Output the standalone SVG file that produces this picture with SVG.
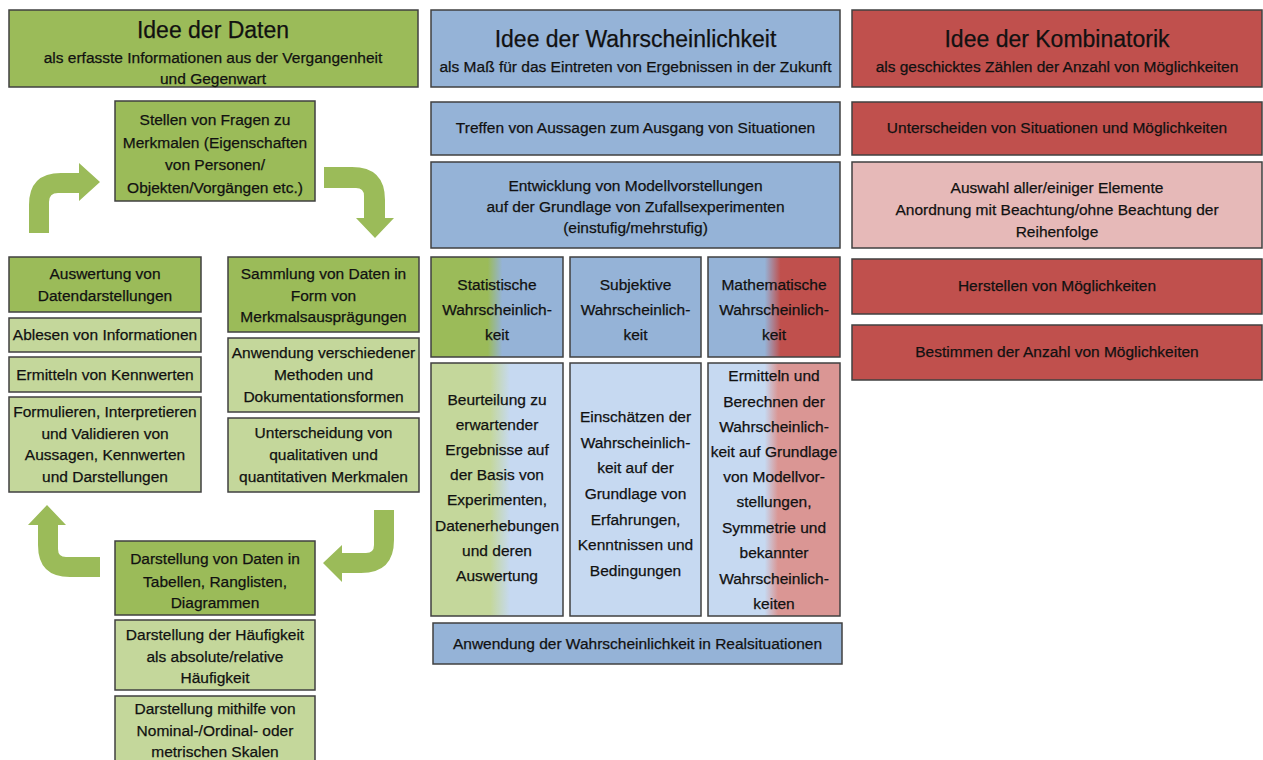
<svg xmlns="http://www.w3.org/2000/svg" width="1263" height="760" viewBox="0 0 1263 760">
<style>
.bx{stroke:#404040;stroke-width:1.5}
.dg{fill:#9bbb59}.lg{fill:#c4d79b}.bl{fill:#95b3d7}.lb{fill:#c6d9f1}.rd{fill:#c0504d}.lr{fill:#e6b9b8}
text{font-family:"Liberation Sans",Arial,sans-serif;fill:#111111;stroke:#111111;stroke-width:0.25px;text-anchor:middle;font-size:15.5px}
.t{font-size:23px}
.ar{fill:#9bbb59}
</style>
<defs>
<linearGradient id="gStat"><stop offset="0.43" stop-color="#9bbb59"/><stop offset="0.54" stop-color="#95b3d7"/></linearGradient>
<linearGradient id="gStatL"><stop offset="0.45" stop-color="#c4d79b"/><stop offset="0.6" stop-color="#c6d9f1"/></linearGradient>
<linearGradient id="gMath"><stop offset="0.43" stop-color="#95b3d7"/><stop offset="0.55" stop-color="#c0504d"/></linearGradient>
<linearGradient id="gMathL"><stop offset="0.43" stop-color="#c6d9f1"/><stop offset="0.53" stop-color="#da9694"/></linearGradient>
</defs>
<rect width="1263" height="760" fill="#ffffff"/>

<!-- Left column: Daten -->
<g id="daten-header"><rect class="bx dg" x="9" y="10" width="409" height="77"/>
<text class="t" x="213" y="38">Idee der Daten</text>
<text x="213" y="63">als erfasste Informationen aus der Vergangenheit</text>
<text x="213" y="84">und Gegenwart</text></g>

<g id="fragen"><rect class="bx dg" x="115" y="101" width="200" height="100"/>
<text x="215" y="125">Stellen von Fragen zu</text>
<text x="215" y="147.5">Merkmalen (Eigenschaften</text>
<text x="215" y="170">von Personen/</text>
<text x="215" y="192.5">Objekten/Vorgängen etc.)</text></g>

<g id="auswertung"><rect class="bx dg" x="9" y="257" width="192" height="55"/>
<text x="105" y="279">Auswertung von</text>
<text x="105" y="300.5">Datendarstellungen</text></g>
<g id="ablesen"><rect class="bx lg" x="9" y="318" width="192" height="34"/>
<text x="105" y="340">Ablesen von Informationen</text></g>
<g id="ermitteln"><rect class="bx lg" x="9" y="357" width="192" height="35"/>
<text x="105" y="380">Ermitteln von Kennwerten</text></g>
<g id="formulieren"><rect class="bx lg" x="9" y="397" width="192" height="95"/>
<text x="105" y="417">Formulieren, Interpretieren</text>
<text x="105" y="438.5">und Validieren von</text>
<text x="105" y="460">Aussagen, Kennwerten</text>
<text x="105" y="481.5">und Darstellungen</text></g>

<g id="sammlung"><rect class="bx dg" x="228" y="257" width="191" height="75"/>
<text x="323.5" y="279">Sammlung von Daten in</text>
<text x="323.5" y="300.5">Form von</text>
<text x="323.5" y="322">Merkmalsausprägungen</text></g>
<g id="anwendung-methoden"><rect class="bx lg" x="228" y="338" width="191" height="74"/>
<text x="323.5" y="358">Anwendung verschiedener</text>
<text x="323.5" y="380">Methoden und</text>
<text x="323.5" y="402">Dokumentationsformen</text></g>
<g id="unterscheidung"><rect class="bx lg" x="228" y="418" width="191" height="74"/>
<text x="323.5" y="438">Unterscheidung von</text>
<text x="323.5" y="460">qualitativen und</text>
<text x="323.5" y="482">quantitativen Merkmalen</text></g>

<g id="darstellung"><rect class="bx dg" x="115" y="541" width="200" height="74"/>
<text x="215" y="564">Darstellung von Daten in</text>
<text x="215" y="586.5">Tabellen, Ranglisten,</text>
<text x="215" y="608">Diagrammen</text></g>
<g id="haeufigkeit"><rect class="bx lg" x="115" y="620" width="200" height="70"/>
<text x="215" y="640">Darstellung der Häufigkeit</text>
<text x="215" y="662">als absolute/relative</text>
<text x="215" y="683">Häufigkeit</text></g>
<g id="skalen"><rect class="bx lg" x="115" y="696" width="200" height="80"/>
<text x="215" y="714">Darstellung mithilfe von</text>
<text x="215" y="736">Nominal-/Ordinal- oder</text>
<text x="215" y="757">metrischen Skalen</text></g>

<g id="connectors">
<path class="ar" d="M29,233 L29,205 Q29,173 61,173 L79,173 L79,163 L100,182 L79,201 L79,193 L58,193 Q49,193 49,202 L49,233 Z"/>
<path class="ar" d="M324,167 L352,167 Q385,167 385,200 L385,218 L394,218 L375,238 L356,218 L364,218 L364,196 Q364,188 356,188 L324,188 Z"/>
<path class="ar" d="M374,510 L394,510 L394,540 Q394,573 361,573 L342,573 L342,582 L323,563 L342,545 L342,553 L366,553 Q374,553 374,545 Z"/>
<path class="ar" d="M100,557 L66,557 Q58,557 58,549 L58,525 L66,525 L47,505 L28,525 L38,525 L38,545 Q38,577 70,577 L100,577 Z"/>
</g>

<!-- Middle column: Wahrscheinlichkeit -->
<g id="ws-header"><rect class="bx bl" x="431" y="10" width="409" height="77"/>
<text class="t" x="635.5" y="47">Idee der Wahrscheinlichkeit</text>
<text x="635.5" y="72">als Maß für das Eintreten von Ergebnissen in der Zukunft</text></g>
<g id="treffen"><rect class="bx bl" x="431" y="102" width="409" height="53"/>
<text x="635.5" y="133">Treffen von Aussagen zum Ausgang von Situationen</text></g>
<g id="entwicklung"><rect class="bx bl" x="431" y="162" width="409" height="86"/>
<text x="635.5" y="190.5">Entwicklung von Modellvorstellungen</text>
<text x="635.5" y="211.5">auf der Grundlage von Zufallsexperimenten</text>
<text x="635.5" y="233">(einstufig/mehrstufig)</text></g>

<g id="statistisch"><rect class="bx" fill="url(#gStat)" x="431" y="257" width="132" height="100"/>
<text x="497" y="290">Statistische</text>
<text x="497" y="315">Wahrscheinlich-</text>
<text x="497" y="340">keit</text></g>
<g id="subjektiv"><rect class="bx bl" x="570" y="257" width="131" height="100"/>
<text x="635.5" y="290">Subjektive</text>
<text x="635.5" y="315">Wahrscheinlich-</text>
<text x="635.5" y="340">keit</text></g>
<g id="mathematisch"><rect class="bx" fill="url(#gMath)" x="708" y="257" width="132" height="100"/>
<text x="774" y="290">Mathematische</text>
<text x="774" y="315">Wahrscheinlich-</text>
<text x="774" y="340">keit</text></g>

<g id="statistisch-text"><rect class="bx" fill="url(#gStatL)" x="431" y="363" width="132" height="253"/>
<text x="497" y="405">Beurteilung zu</text>
<text x="497" y="430">erwartender</text>
<text x="497" y="455">Ergebnisse auf</text>
<text x="497" y="480">der Basis von</text>
<text x="497" y="505">Experimenten,</text>
<text x="497" y="531">Datenerhebungen</text>
<text x="497" y="556">und deren</text>
<text x="497" y="581">Auswertung</text></g>
<g id="subjektiv-text"><rect class="bx lb" x="570" y="363" width="131" height="253"/>
<text x="635.5" y="422">Einschätzen der</text>
<text x="635.5" y="448">Wahrscheinlich-</text>
<text x="635.5" y="473">keit auf der</text>
<text x="635.5" y="499">Grundlage von</text>
<text x="635.5" y="525">Erfahrungen,</text>
<text x="635.5" y="550">Kenntnissen und</text>
<text x="635.5" y="576">Bedingungen</text></g>
<g id="mathematisch-text"><rect class="bx" fill="url(#gMathL)" x="708" y="363" width="132" height="253"/>
<text x="774" y="381">Ermitteln und</text>
<text x="774" y="406.5">Berechnen der</text>
<text x="774" y="432">Wahrscheinlich-</text>
<text x="774" y="457">keit auf Grundlage</text>
<text x="774" y="482">von Modellvor-</text>
<text x="774" y="507">stellungen,</text>
<text x="774" y="533">Symmetrie und</text>
<text x="774" y="558">bekannter</text>
<text x="774" y="584">Wahrscheinlich-</text>
<text x="774" y="609">keiten</text></g>

<g id="anwendung-ws"><rect class="bx bl" x="433" y="623" width="409" height="41"/>
<text x="637.5" y="649">Anwendung der Wahrscheinlichkeit in Realsituationen</text></g>

<!-- Right column: Kombinatorik -->
<g id="komb-header"><rect class="bx rd" x="852" y="10" width="410" height="77"/>
<text class="t" x="1057" y="47">Idee der Kombinatorik</text>
<text x="1057" y="72">als geschicktes Zählen der Anzahl von Möglichkeiten</text></g>
<g id="unterscheiden"><rect class="bx rd" x="852" y="102" width="410" height="53"/>
<text x="1057" y="133">Unterscheiden von Situationen und Möglichkeiten</text></g>
<g id="auswahl"><rect class="bx lr" x="852" y="162" width="410" height="86"/>
<text x="1057" y="193">Auswahl aller/einiger Elemente</text>
<text x="1057" y="215">Anordnung mit Beachtung/ohne Beachtung der</text>
<text x="1057" y="237">Reihenfolge</text></g>
<g id="herstellen"><rect class="bx rd" x="852" y="259" width="410" height="55"/>
<text x="1057" y="291">Herstellen von Möglichkeiten</text></g>
<g id="bestimmen"><rect class="bx rd" x="852" y="325" width="410" height="55"/>
<text x="1057" y="357">Bestimmen der Anzahl von Möglichkeiten</text></g>
</svg>
